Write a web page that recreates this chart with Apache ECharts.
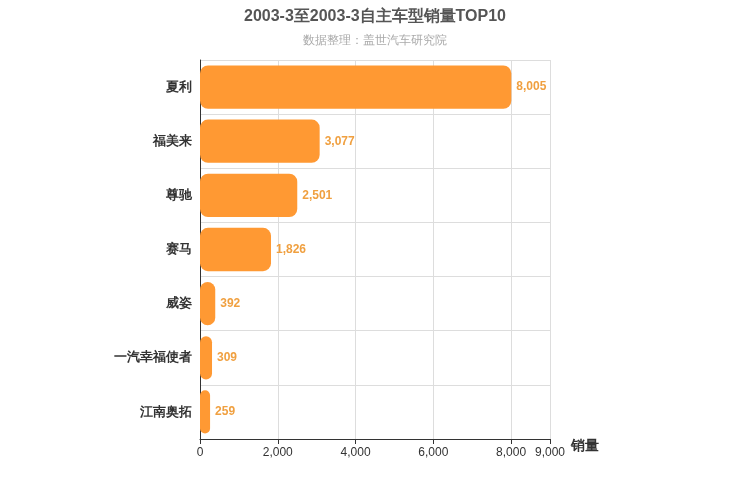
<!DOCTYPE html>
<html><head><meta charset="utf-8">
<script src="https://cdn.jsdelivr.net/npm/echarts@6/dist/echarts.min.js"></script>
</head><body style="margin:0">
<div id="main" style="width:750px;height:500px"></div>
<script>
var categories = ['江南奥拓', '一汽幸福使者', '威姿', '赛马', '尊驰', '福美来', '夏利'];
var sales = [259, 309, 392, 1826, 2501, 3077, 8005];

var chart = echarts.init(document.getElementById('main'));
chart.setOption({
    title: {
        text: '2003-3至2003-3自主车型销量TOP10',
        subtext: '数据整理：盖世汽车研究院',
        left: 'center',
        top: 4,
        itemGap: 10,
        textStyle: { fontSize: 16, fontWeight: 'bold', color: '#555' },
        subtextStyle: { fontSize: 12, color: '#aaa' }
    },
    grid: { left: 200, right: 200, top: 60, bottom: 61 },
    xAxis: {
        type: 'value',
        min: 0,
        max: 9000,
        interval: 2000,
        name: '销量',
        nameGap: 15,
        nameTextStyle: { fontSize: 14, fontWeight: 'bold', color: '#333', verticalAlign: 'top', padding: [0, 0, 0, 0] },
        axisLine: { show: true, lineStyle: { color: '#333' } },
        axisTick: { show: true },
        axisLabel: { color: '#333', showMaxLabel: true },
        splitLine: { lineStyle: { color: '#ddd' } }
    },
    yAxis: {
        type: 'category',
        data: categories,
        axisLine: { lineStyle: { color: '#333' } },
        axisTick: { show: false },
        axisLabel: { color: '#333', fontWeight: 'bold', fontSize: 13 },
        splitLine: { show: true, lineStyle: { color: '#ddd' } }
    },
    series: [{
        type: 'bar',
        data: sales,
        barWidth: '80%',
        itemStyle: { color: '#ff9933', borderRadius: 8 },
        label: {
            show: true,
            position: 'right',
            color: '#f0a040',
            fontWeight: 'bold',
            formatter: function (p) { return p.value.toLocaleString('en-US'); }
        }
    }]
});
</script>
</body></html>
